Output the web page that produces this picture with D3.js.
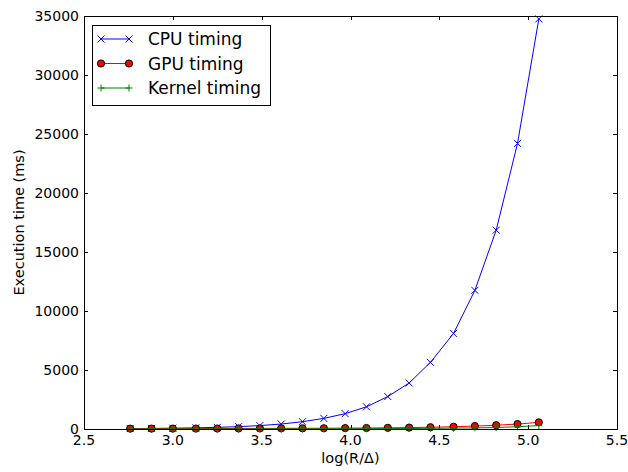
<!DOCTYPE html>
<html>
<head>
<meta charset="utf-8">
<script src="https://cdn.jsdelivr.net/npm/d3@7"></script>
<style>
  body { margin: 0; background: #fff; }
  svg text { font-family: "DejaVu Sans", sans-serif; fill: #000; }
</style>
</head>
<body>
<svg id="chart" width="628" height="472"></svg>
<script>
// log(R/Δ) samples
const logRD = [2.76, 2.88, 3.00, 3.13, 3.25, 3.37, 3.49, 3.61, 3.73, 3.85,
               3.97, 4.09, 4.21, 4.33, 4.45, 4.58, 4.70, 4.82, 4.94, 5.06];
// execution times (ms)
const cpuTiming    = [35, 50, 70, 100, 140, 200, 290, 420, 620, 900,
                      1300, 1880, 2750, 3900, 5650, 8100, 11750, 16850, 24200, 34750];
const gpuTiming    = [30, 32, 35, 38, 40, 45, 50, 55, 60, 65,
                      75, 85, 100, 120, 150, 190, 250, 320, 420, 560];
const kernelTiming = [2, 3, 3, 4, 5, 6, 8, 10, 12, 15,
                      19, 25, 32, 42, 55, 72, 95, 130, 190, 290];
const xTicks = [2.5, 3.0, 3.5, 4.0, 4.5, 5.0, 5.5];
const yTicks = [0, 5000, 10000, 15000, 20000, 25000, 30000, 35000];

const series = [
  { name: "CPU timing",    values: cpuTiming,    color: "#0000ff", marker: "x" },
  { name: "GPU timing",    values: gpuTiming,    color: "#ff0000", marker: "o" },
  { name: "Kernel timing", values: kernelTiming, color: "#008000", marker: "+" }
];

const svg = d3.select("#chart");
const L = 84, R = 617, T = 16, B = 429;
const FS = 14;

const x = d3.scaleLinear().domain([2.5, 5.5]).range([L, R]);
const y = d3.scaleLinear().domain([0, 35000]).range([B, T]);

// ticks inside, on all four sides
const tickLen = 4;
const g = svg.append("g");
xTicks.forEach(t => {
  const px = Math.round(x(t)) + 0.5;
  g.append("line").attr("x1", px).attr("x2", px).attr("y1", B).attr("y2", B - tickLen).attr("stroke", "#000");
  g.append("line").attr("x1", px).attr("x2", px).attr("y1", T).attr("y2", T + tickLen).attr("stroke", "#000");
  g.append("text").attr("x", x(t)).attr("y", B + 16).attr("text-anchor", "middle")
    .style("font-size", FS + "px").text(t.toFixed(1));
});
yTicks.forEach(t => {
  const py = Math.round(y(t)) + 0.5;
  g.append("line").attr("x1", L).attr("x2", L + tickLen).attr("y1", py).attr("y2", py).attr("stroke", "#000");
  g.append("line").attr("x1", R).attr("x2", R - tickLen).attr("y1", py).attr("y2", py).attr("stroke", "#000");
  g.append("text").attr("x", L - 5).attr("y", y(t)).attr("dy", "0.35em").attr("text-anchor", "end")
    .style("font-size", FS + "px").text(t);
});

// series
const plot = svg.append("g");
const line = d3.line().x((d, i) => x(logRD[i])).y(d => y(d));

function drawMarker(sel, s, px, py) {
  const h = 3.5;
  if (s.marker === "x") {
    sel.append("path").attr("d", `M${px - h},${py - h}L${px + h},${py + h}M${px - h},${py + h}L${px + h},${py - h}`)
      .attr("stroke", s.color).attr("stroke-width", 1).attr("fill", "none");
  } else if (s.marker === "+") {
    sel.append("path").attr("d", `M${px - h},${py}L${px + h},${py}M${px},${py - h}L${px},${py + h}`)
      .attr("stroke", s.color).attr("stroke-width", 1).attr("fill", "none");
  } else {
    sel.append("circle").attr("cx", px).attr("cy", py).attr("r", 3.6)
      .attr("fill", s.color).attr("stroke", "#000").attr("stroke-width", 1);
  }
}

series.forEach(s => {
  plot.append("path").datum(s.values).attr("d", line)
    .attr("fill", "none").attr("stroke", s.color).attr("stroke-width", 1);
  s.values.forEach((v, i) => drawMarker(plot, s, x(logRD[i]), y(v)));
});

// frame
svg.append("rect").attr("x", L + 0.5).attr("y", T + 0.5).attr("width", R - L).attr("height", B - T)
  .attr("fill", "none").attr("stroke", "#000").attr("stroke-width", 1);

// axis labels
svg.append("text").attr("x", (L + R) / 2).attr("y", 463).attr("text-anchor", "middle")
  .style("font-size", "14.5px").text("log(R/Δ)");
svg.append("text").attr("transform", `translate(24,${(T + B) / 2}) rotate(-90)`)
  .attr("text-anchor", "middle").style("font-size", "14.5px").text("Execution time (ms)");

// legend
const lg = svg.append("g");
lg.append("rect").attr("x", 92.5).attr("y", 25.5).attr("width", 178).attr("height", 80)
  .attr("fill", "#fff").attr("stroke", "#000").attr("stroke-width", 1);
series.forEach((s, i) => {
  const ly = 39 + i * 24.5;
  lg.append("line").attr("x1", 101).attr("x2", 129).attr("y1", ly).attr("y2", ly)
    .attr("stroke", s.color).attr("stroke-width", 1);
  drawMarker(lg, s, 101, ly);
  drawMarker(lg, s, 129, ly);
  lg.append("text").attr("x", 148).attr("y", ly).attr("dy", "0.36em")
    .style("font-size", "17px").text(s.name);
});
</script>
</body>
</html>
